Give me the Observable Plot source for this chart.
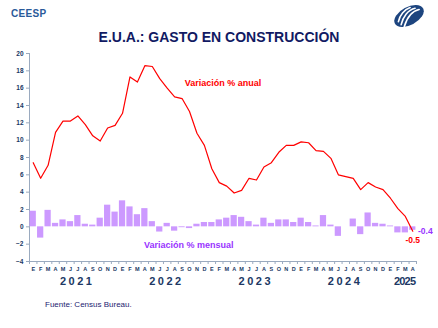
<!DOCTYPE html>
<html>
<head>
<meta charset="utf-8">
<script src="https://cdn.jsdelivr.net/npm/d3@7"></script>
<script src="https://cdn.jsdelivr.net/npm/@observablehq/plot@0.6"></script>
<style>
  body { margin: 0; background: #fff; }
  #wrap { position: relative; width: 438px; height: 328px; background: #fff; font-family: "Liberation Sans", Arial, sans-serif; overflow: hidden; }
  #ceesp { position: absolute; left: 11px; top: 9px; font-size: 10px; line-height: 10px; font-weight: bold; color: #2a5a9a; letter-spacing: 0.3px; }
  #title { position: absolute; left: 0; width: 438px; top: 30px; text-align: center; font-size: 14px; line-height: 14px; font-weight: bold; color: #111a63; }
  #chart { position: absolute; left: 0; top: 45px; }
  #fuente { position: absolute; left: 45px; top: 301px; font-size: 8px; line-height: 8px; color: #1d2270; }
  #logo { position: absolute; left: 392px; top: 4px; }
</style>
</head>
<body>
<div id="wrap">
  <div id="ceesp">CEESP</div>
  <svg id="logo" width="34" height="24" viewBox="0 0 34 24">
    <g transform="translate(17,12) rotate(-28)">
      <ellipse cx="0" cy="0" rx="16" ry="9" fill="#1d457f"/>
      <g stroke="#fff" stroke-width="1.6" fill="none" stroke-linecap="round">
        <path d="M-11,4 C-6,-2 2,-6 9,-4"/>
        <path d="M-9,7 C-3,1 5,-3 12,-1"/>
        <path d="M-12,0 C-8,-5 -1,-8 5,-7"/>
      </g>
    </g>
  </svg>
  <div id="title">E.U.A.: GASTO EN CONSTRUCCIÓN</div>
  <div id="chart"></div>
  <div id="fuente">Fuente: Census Bureau.</div>
</div>
<script>
const monthLetters = ["E","F","M","A","M","J","J","A","S","O","N","D"];
const years = ["2021","2022","2023","2024","2025"];
const yTicks = [-4,-2,0,2,4,6,8,10,12,14,16,18,20];
// Variación % anual (Ene 2021 - Abr 2025)
const anual = [7.4,5.6,7.1,10.9,12.2,12.2,12.8,11.8,10.5,9.9,11.4,11.7,
               13.1,17.3,16.7,18.6,18.5,17.1,16.0,15.0,14.8,13.3,10.8,9.4,
               6.7,5.1,4.7,3.9,4.2,5.6,5.4,6.9,7.4,8.6,9.4,9.4,
               9.8,9.7,8.8,8.7,7.9,6.0,5.8,5.6,4.3,5.1,4.6,4.3,
               3.3,2.1,1.2,-0.5];
// Variación % mensual
const mensual = [1.8,-1.3,1.9,0.4,0.8,0.6,1.3,0.3,0.2,1.0,2.5,1.7,
                 3.0,2.3,1.4,2.1,0.6,-0.6,0.4,-0.5,-0.1,-0.2,0.3,0.5,
                 0.5,0.8,1.0,1.3,1.1,0.6,0.2,1.0,0.4,0.8,0.8,0.5,
                 1.0,0.5,0.1,1.3,0.2,-1.1,0.0,0.9,-0.9,1.6,0.4,0.3,
                 0.1,-0.7,-0.7,-0.4];

const n = anual.length;
const idx = d3.range(n);
const axisColor = "#203864";
const last = n - 1;

const chart = Plot.plot({
  width: 438,
  height: 250,
  marginTop: 8,
  marginBottom: 34,
  marginLeft: 29,
  marginRight: 22,
  style: { fontFamily: "Liberation Sans, Arial, sans-serif", background: "transparent", overflow: "visible" },
  x: { domain: [0, n], axis: null },
  y: { domain: [-4, 20] },
  marks: [
    Plot.axisY({ ticks: yTicks, tickSize: 3, tickPadding: 3, fontSize: 6.5, fontWeight: "bold", color: axisColor, stroke: "#9aaabf" }),
    Plot.axisX({ ticks: d3.range(n + 1), tickFormat: () => "", tickSize: 3, stroke: "#9aaabf" }),
    Plot.ruleX([0], { stroke: "#9aaabf" }),
    Plot.ruleY([-4], { stroke: "#9aaabf" }),
    Plot.rect(mensual, { x1: (d, i) => i, x2: (d, i) => i + 1, y1: 0, y2: d => d, insetLeft: 0.6, insetRight: 0.6, fill: "#cc99ff" }),
    Plot.lineY(anual, { x: (d, i) => i + 0.5, y: d => d, stroke: "#ff0000", strokeWidth: 1.2 }),
    Plot.text(idx, { x: i => i + 0.5, y: -4, dy: 8, text: i => monthLetters[i % 12], fontSize: 5.5, fontWeight: "bold", fill: axisColor }),
    Plot.text(years, { x: (d, k) => 12 * k + Math.min(12, n - 12 * k) / 2, y: -4, dx: 3, dy: 20, text: d => d, fontSize: 11, fontWeight: "bold", fill: axisColor }),
    Plot.text(["Variación % anual"], { x: 26, y: 16.6, text: d => d, fontSize: 9, fontWeight: "bold", fill: "#ff0000" }),
    Plot.text(["Variación % mensual"], { x: 21.4, y: -2.1, text: d => d, fontSize: 9, fontWeight: "bold", fill: "#9933ff" }),
    Plot.text([mensual[last]], { x: n, y: d => d, dx: 1.5, dy: 0.5, text: d => d.toFixed(1), textAnchor: "start", fontSize: 8.5, fontWeight: "bold", fill: "#9933ff" }),
    Plot.text([anual[last]], { x: last + 0.5, y: d => d, dy: 9, text: d => d.toFixed(1), fontSize: 8.5, fontWeight: "bold", fill: "#ff0000" })
  ]
});

d3.select(chart).selectAll("text").each(function () {
  const t = this.textContent;
  if (/^202[1-4]$/.test(t)) d3.select(this).attr("letter-spacing", "2.5px");
  if (t === "2025") d3.select(this).attr("letter-spacing", "-0.8px");
});

document.getElementById("chart").appendChild(chart);
</script>
</body>
</html>
